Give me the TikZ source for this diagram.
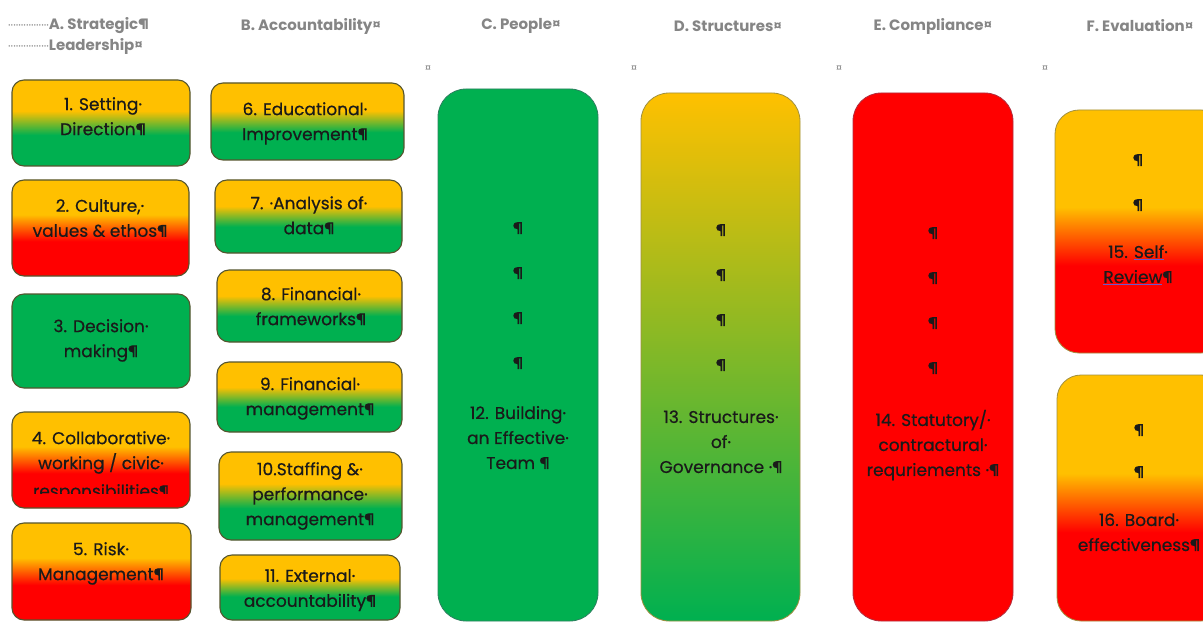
\documentclass[tikz,border=0pt]{standalone}
\usepackage{fontspec}
\setmainfont{Poppins}
\newfontfamily\bodyfont[FakeBold=0.5]{Poppins}
\definecolor{co}{HTML}{FFC000}
\definecolor{cg}{HTML}{00B050}
\definecolor{cr}{HTML}{FF0000}
\definecolor{hd}{HTML}{858585}
\definecolor{bd}{HTML}{55552E}
\definecolor{bdC}{HTML}{2E8060}
\definecolor{bdD}{HTML}{A09040}
\definecolor{bdE}{HTML}{B03040}
\definecolor{ulc}{HTML}{6A5ACD}
\definecolor{tx}{HTML}{1A1A1A}
\pgfdeclareverticalshading{OG}{100bp}{color(0bp)=(cg); color(43bp)=(cg); color(57bp)=(co); color(100bp)=(co)}
\pgfdeclareverticalshading{OR}{100bp}{color(0bp)=(cr); color(43bp)=(cr); color(57bp)=(co); color(100bp)=(co)}
\pgfdeclareverticalshading{ORF}{100bp}{color(0bp)=(cr); color(43bp)=(cr); color(55bp)=(co); color(100bp)=(co)}
\pgfdeclareverticalshading{OGL}{100bp}{color(0bp)=(cg); color(25bp)=(cg); color(75bp)=(co); color(100bp)=(co)}
\newcommand\myul[1]{\textcolor{ulc}{\underline{\textcolor{tx}{#1}}}}
\newcommand\leaderdots{{\mdseries\fontsize{12}{12}\selectfont ················}}
\tikzset{
  sbox/.style={draw=bd, line width=1.1pt, rounded corners=12pt, inner sep=0pt},
  bigbox/.style={line width=0.8pt, rounded corners=28pt, inner sep=0pt},
  fbox/.style={draw=bdD, line width=0.8pt, rounded corners=24pt, inner sep=0pt},
  txt/.style={font=\bodyfont\fontsize{17}{25}\selectfont, align=center, inner sep=0pt, anchor=north, text=tx},
  head/.style={font=\fontsize{15}{20}\selectfont\bfseries, text=hd, inner sep=0pt},
  fmark/.style={font=\fontsize{12}{12}\selectfont, text=hd, inner sep=0pt}
}
\begin{document}
\begin{tikzpicture}[x=1pt,y=-1pt]
\clip (0,0) rectangle (1203,623);
\fill[white] (0,0) rectangle (1203,623);
% headers
\node[head, anchor=west] (hA1) at (8,26) {\leaderdots A. Strategic¶};
\node[head, anchor=west] (hA2) at (8,46) {\leaderdots Leadership¤};
\node[head] (hB) at (311,26) {B. Accountability¤};
\node[head] (hC) at (521,26) {C. People¤};
\node[head] (hD) at (728,26) {D. Structures¤};
\node[head] (hE) at (933,26) {E. Compliance¤};
\node[head] (hF) at (1140,26) {F. Evaluation¤};
\node[fmark] (m1) at (428,69) {¤};
\node[fmark] (m2) at (634,69) {¤};
\node[fmark] (m3) at (839,69) {¤};
\node[fmark] (m4) at (1045,69) {¤};
% column A
\node[sbox, shading=OG, minimum width=178, minimum height=86] (b1) at (101,123) {};
\node[sbox, shading=OR, minimum width=177, minimum height=96] (b2) at (100.5,228) {};
\node[sbox, fill=cg, minimum width=178, minimum height=94] (b3) at (101,341) {};
\node[sbox, shading=OR, minimum width=178, minimum height=96] (b4) at (101,460) {};
\node[sbox, shading=OR, minimum width=179, minimum height=97] (b5) at (101.5,571.5) {};
\node[txt] (t1) at (103,97) {1. Setting·\\Direction¶};
\node[txt] (t2) at (100,199) {2. Culture,·\\values \& ethos¶};
\node[txt] (t3) at (101,319) {3. Decision·\\making¶};
\node[txt] (t4) at (101,431) {4. Collaborative·\\working / civic·};
\begin{scope}
\clip (14,470) rectangle (188,493);
\node[txt] (t4c) at (101,484) {responsibilities¶};
\end{scope}
\node[txt] (t5) at (101,542) {5. Risk·\\Management¶};
% column B
\node[sbox, shading=OG, minimum width=193, minimum height=77] (b6) at (307.5,121.5) {};
\node[sbox, shading=OG, minimum width=187, minimum height=73] (b7) at (308.5,216.5) {};
\node[sbox, shading=OG, minimum width=185, minimum height=72] (b8) at (309.5,306) {};
\node[sbox, shading=OG, minimum width=185, minimum height=70] (b9) at (309.5,397) {};
\node[sbox, shading=OG, minimum width=183, minimum height=88] (b10) at (310.5,496) {};
\node[sbox, shading=OG, minimum width=180, minimum height=65] (b11) at (310,587.5) {};
\node[txt] (t6) at (305,102) {6. Educational·\\Improvement¶};
\node[txt] (t7) at (309,196) {7. ·Analysis of·\\data¶};
\node[txt] (t8) at (311,287) {8. Financial·\\frameworks¶};
\node[txt] (t9) at (310,377) {9. Financial·\\management¶};
\node[txt] (t10) at (310,462) {10.Staffing \&·\\performance·\\management¶};
\node[txt] (t11) at (310,569) {11. External·\\accountability¶};
% columns C, D, E
\node[bigbox, draw=bdC, fill=cg, minimum width=160, minimum height=532] (bC) at (518,355) {};
\node[bigbox, draw=bdD, shading=OGL, minimum width=159, minimum height=528] (bD) at (720.5,357) {};
\node[bigbox, draw=bdE, fill=cr, minimum width=160, minimum height=528] (bE) at (933,357) {};
\node[txt] (tC) at (518,222) {¶\\[20pt]¶\\[20pt]¶\\[20pt]¶\\[25pt]12. Building·\\an Effective·\\Team ¶};
\node[txt] (tD) at (721,224) {¶\\[20pt]¶\\[20pt]¶\\[20pt]¶\\[27pt]13. Structures·\\of·\\Governance ·¶};
\node[txt] (tE) at (933,227) {¶\\[20pt]¶\\[20pt]¶\\[20pt]¶\\[27pt]14. Statutory/·\\contractural·\\requriements ·¶};
% column F
\node[fbox, shading=ORF, minimum width=170, minimum height=243] (bF1) at (1140,231.5) {};
\node[fbox, shading=ORF, minimum width=168, minimum height=246] (bF2) at (1141,498) {};
\node[txt] (tF1) at (1138,154) {¶\\[20pt]¶\\[22pt]15. \myul{Self}·\\\myul{Review}¶};
\node[txt] (tF2) at (1139,424) {¶\\[17pt]¶\\[23pt]16. Board·\\effectiveness¶};
\end{tikzpicture}
\end{document}
